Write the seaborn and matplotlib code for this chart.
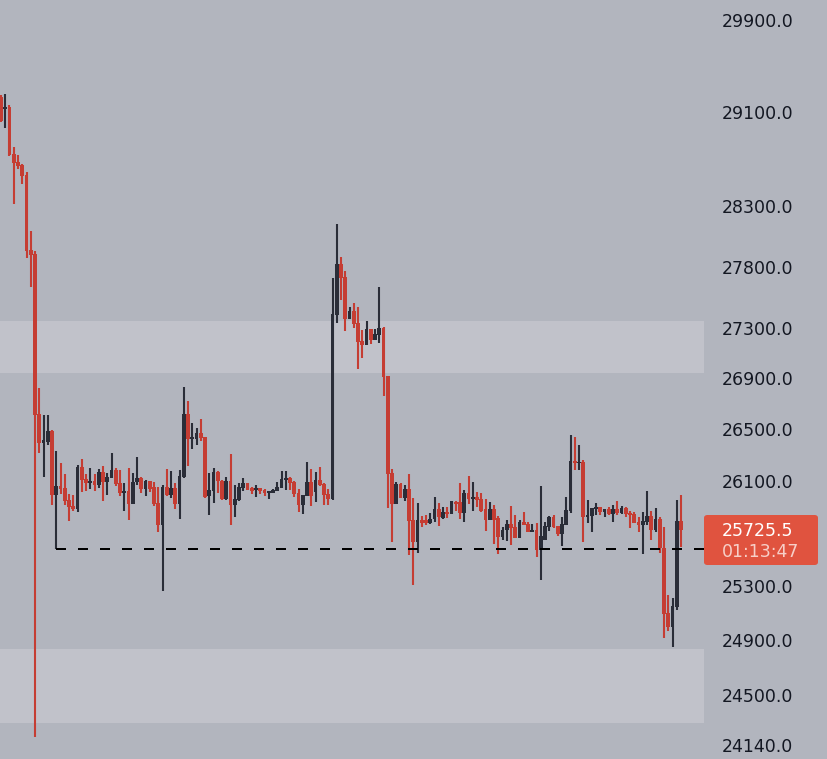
import numpy as np
import pandas as pd
import matplotlib
matplotlib.use("Agg")
import matplotlib.pyplot as plt
import seaborn as sns
from matplotlib.patches import FancyBboxPatch
from matplotlib.ticker import FixedLocator, FuncFormatter, NullLocator

# candle data (oldest -> newest)
opens = [29228, 29125, 29142, 28741, 28673, 28647, 28563, 27938, 27905, 26618,
         26391, 26398, 26484, 25989, 26058, 26043, 25950, 25905, 25882, 26204,
         26112, 26081, 26096, 26066, 26166, 26089, 26120, 26181, 26081, 26004,
         26020, 25920, 26089, 26120, 26035, 26096, 26050, 25927, 25760, 26050,
         25989, 26043, 25920, 26127, 26618, 26422, 26422, 26469, 26437, 25981,
         26020, 26166, 26096, 25958, 26096, 25912, 25950, 26043, 26081, 26043,
         26027, 26043, 26027, 26004, 26004, 26020, 26043, 26104, 26120, 26089,
         26004, 25912, 25981, 26089, 26012, 26104, 26073, 25996, 25958, 27407,
         27822, 27716, 27374, 27439, 27342, 27197, 27165, 27294, 27205, 27246,
         27302, 26918, 26158, 25920, 26073, 25966, 26035, 25798, 25631, 25798,
         25798, 25775, 25805, 25882, 25813, 25859, 25844, 25935, 25935, 25851,
         26004, 25958, 25973, 25958, 25882, 25798, 25882, 25813, 25669, 25722,
         25767, 25745, 25661, 25783, 25767, 25707, 25722, 25570, 25646, 25745,
         25821, 25752, 25692, 25760, 25866, 26251, 26235, 26243, 25821, 25828,
         25882, 25897, 25859, 25882, 25844, 25882, 25851, 25889, 25851, 25844,
         25783, 25760, 25783, 25828, 25722, 25805, 25585, 25099, 24996, 25144,
         25790]
highs = [29245, 29254, 29159, 28800, 28732, 28656, 28588, 28095, 27929, 26823,
         26610, 26610, 26492, 26328, 26235, 26150, 25996, 25989, 26220, 26266,
         26150, 26197, 26150, 26189, 26212, 26158, 26313, 26197, 26181, 26081,
         26197, 26158, 26282, 26127, 26104, 26096, 26089, 26050, 26066, 26189,
         26173, 26081, 26181, 26830, 26720, 26547, 26508, 26578, 26437, 26158,
         26197, 26173, 26104, 26127, 26305, 26066, 26081, 26120, 26085, 26050,
         26066, 26043, 26035, 26020, 26035, 26089, 26173, 26173, 26127, 26096,
         26035, 25989, 26243, 26189, 26166, 26204, 26081, 26035, 27708, 28153,
         27880, 27765, 27472, 27504, 27472, 27286, 27358, 27294, 27294, 27634,
         27310, 26918, 26189, 26089, 26081, 26066, 26150, 25966, 25927, 25828,
         25836, 25851, 25973, 25927, 25897, 25897, 25943, 25943, 26081, 26027,
         26135, 26089, 26012, 26004, 25958, 25935, 25912, 25828, 25745, 25798,
         25905, 25836, 25798, 25859, 25783, 25767, 25775, 26058, 25783, 25828,
         25836, 25752, 25821, 25973, 26453, 26437, 26375, 26259, 25950, 25889,
         25927, 25897, 25882, 25897, 25912, 25943, 25905, 25897, 25866, 25859,
         25821, 25859, 26020, 25866, 25889, 25821, 25745, 25233, 25210, 25950,
         25989]
lows = [29013, 28962, 28725, 28320, 28614, 28487, 27872, 27634, 24197, 26313,
        26127, 26375, 25912, 25580, 25996, 25912, 25790, 25866, 25859, 26012,
        26020, 26035, 26020, 26043, 25943, 25989, 26120, 26058, 25981, 25866,
        25798, 25920, 26066, 26004, 25981, 26012, 25905, 25707, 25263, 25981,
        25966, 25882, 25805, 26120, 26212, 26344, 26375, 26406, 25966, 25836,
        25927, 26004, 25950, 25950, 25760, 25821, 25943, 26020, 26027, 25996,
        25973, 25996, 25981, 25958, 26004, 26020, 26043, 26027, 26027, 25973,
        25859, 25844, 25981, 25905, 25935, 26058, 25912, 25912, 25950, 27342,
        27528, 27278, 27374, 27302, 26973, 27061, 27165, 27173, 27205, 27181,
        26759, 25889, 25631, 25920, 25966, 25943, 25532, 25307, 25548, 25745,
        25760, 25767, 25783, 25752, 25805, 25813, 25844, 25866, 25805, 25783,
        25920, 25866, 25897, 25859, 25714, 25798, 25616, 25540, 25646, 25638,
        25608, 25661, 25661, 25760, 25707, 25707, 25517, 25345, 25646, 25714,
        25737, 25676, 25600, 25760, 25851, 26181, 26181, 25631, 25775, 25707,
        25836, 25836, 25821, 25836, 25783, 25836, 25844, 25821, 25737, 25775,
        25707, 25540, 25760, 25646, 25707, 25548, 24915, 24966, 24849, 25121,
        25593]
closes = [29022, 29142, 28732, 28664, 28639, 28555, 27929, 27896, 26610, 26391,
          26414, 26484, 25989, 26058, 26035, 25943, 25897, 25882, 26204, 26104,
          26081, 26096, 26066, 26166, 26089, 26127, 26181, 26073, 26004, 26020,
          25920, 26089, 26120, 26035, 26096, 26035, 25920, 25760, 26050, 25989,
          26043, 25920, 26135, 26618, 26422, 26430, 26469, 26430, 25973, 26027,
          26166, 26096, 25958, 26096, 25912, 25958, 26050, 26081, 26027, 26020,
          26043, 26020, 26004, 26020, 26027, 26050, 26112, 26120, 26081, 25996,
          25912, 25989, 26089, 25981, 26104, 26066, 25989, 25958, 27415, 27822,
          27708, 27374, 27439, 27334, 27189, 27165, 27294, 27205, 27254, 27302,
          26910, 26150, 25920, 26073, 25966, 26035, 25790, 25631, 25798, 25775,
          25775, 25805, 25882, 25821, 25859, 25844, 25943, 25920, 25851, 26004,
          25958, 25973, 25950, 25866, 25798, 25882, 25798, 25669, 25722, 25767,
          25737, 25661, 25783, 25760, 25707, 25722, 25570, 25676, 25752, 25821,
          25745, 25692, 25767, 25874, 26251, 26235, 26243, 25821, 25836, 25889,
          25897, 25859, 25882, 25844, 25882, 25851, 25889, 25844, 25836, 25775,
          25760, 25790, 25828, 25722, 25805, 25585, 25092, 24996, 25151, 25790,
          25725.5]

tick_values = [29900, 29100, 28300, 27800, 27300, 26900, 26500, 26100,
               25300, 24900, 24500, 24140]
zones = [(26940, 27355), (24300, 24834)]
line_level = 25580      # low of candle 13, dashed level
line_start = 13
last_price = "25725.5"
countdown = "01:13:47"

BG = "#b2b5be"
ZONE = "#c1c2ca"
RED = "#c53d33"
DARK = "#2a2d38"
LABEL_RED = "#e0533f"

sns.set_theme(style="white", rc={"axes.facecolor": BG, "figure.facecolor": BG})
plt.rcParams["font.family"] = ["DejaVu Sans"]

df = pd.DataFrame({"open": opens, "high": highs, "low": lows, "close": closes})
df["idx"] = np.arange(len(df))
up = df["close"] >= df["open"]
colors = np.where(up, DARK, RED)

fig = plt.figure(figsize=(8.28, 7.59), dpi=100)
ax = fig.add_axes([0, 0, 704 / 828, 1])
ax.set_yscale("log")

for lo, hi in zones:
    ax.axhspan(lo, hi, color=ZONE, lw=0, zorder=0)

ax.vlines(df["idx"], df["low"], df["high"], colors=colors, lw=1.5, zorder=2)
bottom = df[["open", "close"]].min(axis=1)
height = (df["close"] - df["open"]).abs().clip(lower=12)
ax.bar(df["idx"], height, bottom=bottom, width=0.9, color=colors,
       linewidth=0, zorder=3)

xmax = 165.4
ax.hlines(line_level, line_start, xmax, colors="black", lw=1.44,
          linestyles=(0, (5, 6)), zorder=4)

ax.set_xlim(-0.235, xmax)
ax.set_ylim(24041, 30077)
ax.yaxis.tick_right()
ax.yaxis.set_major_locator(FixedLocator(tick_values))
ax.yaxis.set_minor_locator(NullLocator())
ax.yaxis.set_major_formatter(FuncFormatter(lambda v, p: f"{v:.1f}"))
ax.tick_params(axis="y", length=0, pad=13, labelsize=12.5, labelcolor="#131722")
ax.set_xticks([])
for s in ax.spines.values():
    s.set_visible(False)

# last price tag
box = FancyBboxPatch((704 / 828, 1 - 565 / 759), 114 / 828, 50 / 759,
                     boxstyle="round,pad=0,rounding_size=0.004",
                     transform=fig.transFigure, facecolor=LABEL_RED,
                     edgecolor="none", zorder=5)
fig.patches.append(box)
fig.text(722 / 828, 1 - 531 / 759, last_price, color="white", fontsize=12.5,
         va="center", ha="left", zorder=6)
fig.text(722 / 828, 1 - 552 / 759, countdown, color="#f7cfc8", fontsize=12.5,
         va="center", ha="left", zorder=6)

fig.savefig("out.png", dpi=100, facecolor=BG)
